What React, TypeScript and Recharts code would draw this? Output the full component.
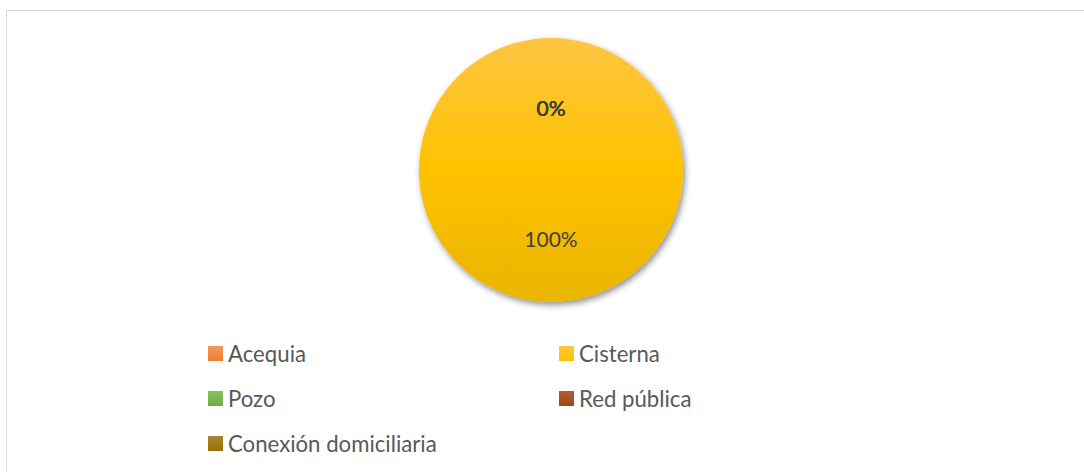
import { PieChart, Pie, Cell, Legend } from "recharts";

const categories = ["Acequia", "Cisterna", "Pozo", "Red pública", "Conexión domiciliaria"];
const shares = [0, 100, 0, 0, 0];
const colors = ["#ED7D31", "#FFC000", "#70AD47", "#9E480E", "#997300"];
const lightColors = ["#F4975F", "#FFC73F", "#87C064", "#AD5F38", "#A88631"];

const data = categories.map((name, i) => ({ name, value: shares[i] }));

const RAD = Math.PI / 180;

function renderLabel(props: any) {
  const { cx, cy, midAngle, percent, index } = props;
  const r = shares[index] > 0 ? 68 : 63;
  const x = cx + r * Math.cos(-midAngle * RAD);
  const y = cy + r * Math.sin(-midAngle * RAD);
  return (
    <text x={x} y={y} fill="#404040" textAnchor="middle" dominantBaseline="central"
      style={{ fontFamily: "Lato, 'Open Sans', sans-serif", fontSize: 21 }}>
      {`${Math.round(percent * 100)}%`}
    </text>
  );
}

function LegendBox() {
  return (
    <div style={{ position: "relative", width: 1084, height: 130, fontFamily: "Lato, 'Open Sans', sans-serif" }}>
      {categories.map((name, i) => {
        const col = i % 2;
        const row = Math.floor(i / 2);
        return (
          <div key={name} style={{
            position: "absolute", left: col === 0 ? 208 : 559, top: row * 45,
            display: "flex", alignItems: "center", height: 15,
          }}>
            <span style={{
              width: 15, height: 15, display: "inline-block",
              background: `linear-gradient(${lightColors[i]}, ${colors[i]})`,
            }} />
            <span style={{ marginLeft: 5, fontSize: 22.2, color: "#595959", lineHeight: "15px", whiteSpace: "nowrap" }}>
              {name}
            </span>
          </div>
        );
      })}
    </div>
  );
}

export default function App() {
  return (
    <div style={{ position: "fixed", left: 0, top: 0, width: 1084, height: 472, background: "#fff", overflow: "hidden" }}>
      <div style={{
        position: "absolute", left: 6, top: 10, width: 1200, height: 600,
        borderLeft: "1.5px solid #d9d9d9", borderTop: "1.5px solid #d9d9d9",
      }} />
      <div style={{ position: "absolute", left: 0, top: 0 }}>
        <PieChart width={1084} height={472} margin={{ top: 0, right: 0, bottom: 0, left: 0 }}>
          <defs>
            <linearGradient id="pieFill" x1="0" y1="0" x2="0" y2="1">
              <stop offset="0%" stopColor="#FFC542" />
              <stop offset="50%" stopColor="#FFC200" />
              <stop offset="100%" stopColor="#E8B500" />
            </linearGradient>
            <filter id="pieShadow" x="-20%" y="-20%" width="140%" height="140%">
              <feDropShadow dx="2" dy="3" stdDeviation="3" floodColor="#000" floodOpacity="0.45" />
            </filter>
          </defs>
          <Pie
            data={data}
            dataKey="value"
            nameKey="name"
            cx={551}
            cy={170}
            outerRadius={132}
            startAngle={90}
            endAngle={-270}
            stroke="none"
            label={renderLabel}
            labelLine={false}
            isAnimationActive={false}
            style={{ filter: "url(#pieShadow)" }}
          >
            {data.map((d, i) => (
              <Cell key={d.name} fill={shares[i] > 0 ? "url(#pieFill)" : colors[i]} />
            ))}
          </Pie>
          <Legend
            content={() => <LegendBox />}
            wrapperStyle={{ position: "absolute", left: 0, top: 346, width: 1084 }}
          />
        </PieChart>
      </div>
    </div>
  );
}
